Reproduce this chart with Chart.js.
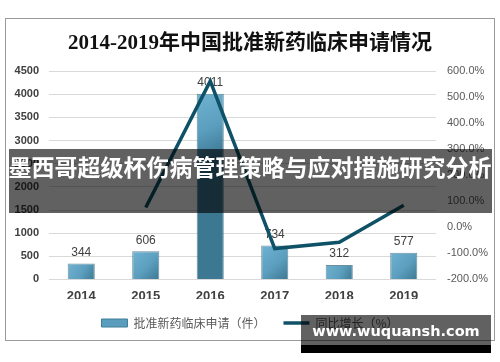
<!DOCTYPE html>
<html lang="zh">
<head>
<meta charset="UTF-8">
<title>2014-2019年中国批准新药临床申请情况</title>
<script src="https://cdn.jsdelivr.net/npm/chart.js"></script>
<style>
  html, body { margin: 0; padding: 0; background: #fff; }
  body { width: 500px; height: 362px; position: relative; overflow: hidden; }
  .frame { position: absolute; left: 5px; top: 18px; width: 488px; height: 321px; border: 1px solid #9a9a9a; }
  #chart { position: absolute; left: 0; top: 0; }
  /* overlay banner across the middle */
  .banner { position: absolute; left: 0; top: 149px; width: 500px; text-align: center; }
  .banner span { display: inline-block; height: 64px; line-height: 64px; background: rgba(0,0,0,0.62);
    color: #fff; font: bold 23px "Noto Sans CJK SC", sans-serif; white-space: nowrap; }
  .mark { position: absolute; left: 301px; top: 315px; width: 190px; height: 30px; background: rgba(0,0,0,0.62);
    color: #fff; font: bold 14.5px "DejaVu Sans", sans-serif; text-align: center; line-height: 32px; }
  .mark2 { position: absolute; left: 301px; top: 345px; width: 190px; height: 8px; background: #000; }
</style>
</head>
<body>
<div class="frame"></div>
<canvas id="chart" width="500" height="362"></canvas>
<div class="banner"><span>墨西哥超级杯伤病管理策略与应对措施研究分析</span></div>
<div class="mark">www.wuquansh.com</div>
<div class="mark2"></div>
<script>
// data
const years = ['2014', '2015', '2016', '2017', '2018', '2019'];
const applications = [344, 606, 4011, 734, 312, 577];
const growth = [null, 76.2, 561.9, -81.7, -57.5, 84.9];

const lineColor = '#0f5267';

function barFill(c) {
  const ch = c.chart;
  if (!ch.chartArea || c.type !== 'data') return '#5b9dbc';
  const x = ch.scales.x.getPixelForValue(c.dataIndex);
  const top = ch.scales.y.getPixelForValue(c.raw);
  const base = ch.scales.y.getPixelForValue(0);
  const g = ch.ctx.createLinearGradient(x - 14, top, x + 14, Math.min(base, top + 60));
  g.addColorStop(0, '#6fb2d1');
  g.addColorStop(0.55, '#5b9ebe');
  g.addColorStop(1, '#3c7892');
  return g;
}

// value labels above bars, drawn before the line
const barLabels = {
  id: 'barLabels',
  afterDatasetDraw(chart, args) {
    if (args.index !== 0) return;
    const ctx = chart.ctx;
    ctx.save();
    ctx.font = '12px "Liberation Sans", sans-serif';
    ctx.fillStyle = '#404040';
    ctx.textAlign = 'center';
    ctx.textBaseline = 'bottom';
    args.meta.data.forEach((bar, i) => {
      ctx.fillText(String(applications[i]), bar.x, bar.y - 5);
    });
    ctx.restore();
  }
};

new Chart(document.getElementById('chart'), {
  data: {
    labels: years,
    datasets: [{
      type: 'bar',
      label: '批准新药临床申请（件）',
      data: applications,
      yAxisID: 'y',
      backgroundColor: barFill,
      borderColor: 'rgba(45,95,115,0.7)',
      borderWidth: 1,
      barPercentage: 0.42,
      categoryPercentage: 1,
      order: 2
    }, {
      type: 'line',
      label: '同比增长（%）',
      data: growth,
      yAxisID: 'y1',
      borderColor: lineColor,
      backgroundColor: lineColor,
      borderWidth: 3.5,
      pointRadius: 0,
      tension: 0,
      order: 1
    }]
  },
  options: {
    responsive: false,
    animation: false,
    layout: { padding: { top: 20, left: 8, right: 8, bottom: 23 } },
    plugins: {
      title: {
        display: true,
        text: '2014-2019年中国批准新药临床申请情况',
        color: '#111',
        font: { family: '"Liberation Serif", "Noto Sans CJK SC", serif', size: 21, weight: 'bold' },
        padding: { top: 11, bottom: 15 }
      },
      legend: {
        position: 'bottom',
        labels: {
          usePointStyle: true,
          pointStyleWidth: 26,
          boxHeight: 8,
          padding: 18,
          color: '#595959',
          font: { family: '"Noto Sans CJK SC", sans-serif', size: 12 },
          sort: (a, b) => a.datasetIndex - b.datasetIndex,
          generateLabels(chart) {
            const items = Chart.defaults.plugins.legend.labels.generateLabels(chart);
            items.forEach(it => {
              if (it.datasetIndex === 0) {
                it.fillStyle = '#5b9dbc';
                it.strokeStyle = '#3f7f9a';
                it.lineWidth = 1;
                it.pointStyle = 'rect';
              } else {
                it.pointStyle = 'line';
                it.strokeStyle = lineColor;
                it.lineWidth = 3.5;
              }
            });
            return items;
          }
        }
      },
      tooltip: { enabled: false }
    },
    scales: {
      x: {
        afterFit(s) { s.height -= 14; },
        grid: { display: false, drawTicks: false },
        border: { display: false },
        ticks: { padding: 9, color: '#404040', font: { family: '"Liberation Sans", sans-serif', size: 13, weight: 'bold' } }
      },
      y: {
        position: 'left',
        min: 0, max: 4500,
        afterFit(s) { s.width = 41; },
        grid: { color: '#d9d9d9', drawTicks: false },
        border: { display: false },
        ticks: {
          stepSize: 500, padding: 10, color: '#404040',
          font: { family: '"Liberation Sans", sans-serif', size: 11, weight: 'bold' },
          callback: v => String(v)
        }
      },
      y1: {
        position: 'right',
        min: -200, max: 600,
        afterFit(s) { s.width = 56; },
        grid: { display: false, drawTicks: false },
        border: { display: false },
        ticks: {
          stepSize: 100, padding: 11, color: '#595959',
          font: { family: '"Liberation Sans", sans-serif', size: 11 },
          callback: v => v.toFixed(1) + '%'
        }
      }
    }
  },
  plugins: [barLabels]
});
</script>
</body>
</html>
